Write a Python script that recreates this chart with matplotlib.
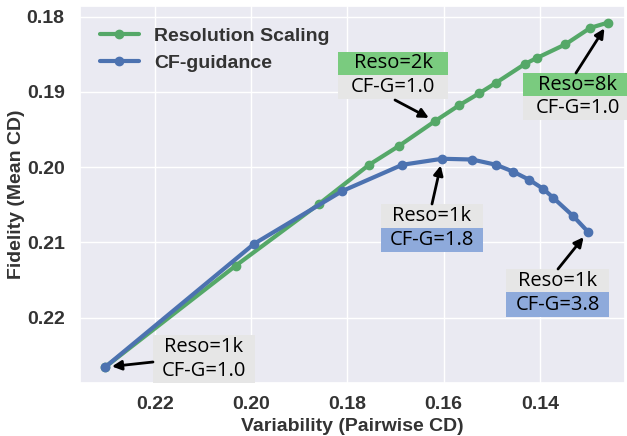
import matplotlib
matplotlib.use("Agg")
import matplotlib.pyplot as plt
import seaborn as sns
from matplotlib.patches import Rectangle

# ---- data ----
reso_x = [0.2304, 0.2032, 0.1859, 0.1755, 0.1693, 0.1618, 0.1568, 0.1526,
          0.1491, 0.1431, 0.1406, 0.1347, 0.1295, 0.1258]
reso_y = [0.2266, 0.2131, 0.2049, 0.1997, 0.1972, 0.1939, 0.1918, 0.1902,
          0.1888, 0.1863, 0.1855, 0.1837, 0.1815, 0.1808]
cfg_x = [0.2304, 0.1994, 0.1811, 0.1686, 0.1603, 0.1541, 0.1491, 0.1456,
         0.1422, 0.1393, 0.1372, 0.1331, 0.1300]
cfg_y = [0.2266, 0.2102, 0.2032, 0.1997, 0.1989, 0.1990, 0.1997, 0.2006,
         0.2017, 0.2029, 0.2041, 0.2065, 0.2086]
xticks = [0.22, 0.20, 0.18, 0.16, 0.14]
yticks = [0.18, 0.19, 0.20, 0.21, 0.22]
series_names = ["Resolution Scaling", "CF-guidance"]

sns.set_theme(style="darkgrid")
plt.rcParams['font.family'] = ['Liberation Sans', 'DejaVu Sans']

W, H = 627, 436
fig = plt.figure(figsize=(W / 100, H / 100), dpi=100)
AX_L, AX_R, AX_T, AX_B = 80, 625, 6, 383
ax = fig.add_axes([AX_L / W, 1 - AX_B / H, (AX_R - AX_L) / W, (AX_B - AX_T) / H])

green = "#55A868"
blue = "#4C72B0"
ax.plot(reso_x, reso_y, '-o', color=green, lw=3, ms=6, label=series_names[0], zorder=3)
ax.plot(cfg_x, cfg_y, '-o', color=blue, lw=3, ms=6, label=series_names[1], zorder=4)

ax.set_xlim(0.2356, 0.1223)
ax.set_ylim(0.2287, 0.1786)
ax.set_xticks(xticks)
ax.set_yticks(yticks)
ax.set_xticklabels([f"{v:.2f}" for v in xticks])
ax.set_yticklabels([f"{v:.2f}" for v in yticks])
FS = 14
for lab in ax.get_xticklabels() + ax.get_yticklabels():
    lab.set_fontweight('bold')
    lab.set_fontsize(FS)
    lab.set_color('#333333')
ax.tick_params(axis='x', pad=3)
ax.tick_params(axis='y', pad=5)
ax.set_xlabel("Variability (Pairwise CD)", fontsize=FS, fontweight='bold', color='#333333', labelpad=4)
ax.set_ylabel("Fidelity (Mean CD)", fontsize=FS, fontweight='bold', color='#333333', labelpad=1)

leg = ax.legend(loc='upper left', frameon=False, prop={'weight': 'bold', 'size': FS},
                handlelength=2.0, handletextpad=0.8, borderaxespad=0.2, labelspacing=0.5,
                bbox_to_anchor=(0.015, 0.975))
for t in leg.get_texts():
    t.set_color('#333333')

def pa(px, py):
    return ((px - AX_L) / (AX_R - AX_L), (AX_B - py) / (AX_B - AX_T))

c_green = "#7ACB7F"
c_gray = "#E6E6E6"
c_blue = "#8EAADB"
afont = dict(family=['Open Sans', 'DejaVu Sans'], fontsize=14.5, color='black')

def box(x0, x1, y0, y1, color, text):
    (ax0, ay1) = pa(x0, y0)
    (ax1, ay0) = pa(x1, y1)
    ax.add_patch(Rectangle((ax0, ay0), ax1 - ax0, ay1 - ay0, transform=ax.transAxes,
                           facecolor=color, edgecolor='none', zorder=5, clip_on=False))
    cx, cy = pa((x0 + x1) / 2, (y0 + y1) / 2)
    ax.text(cx, cy, text, transform=ax.transAxes, ha='center', va='center', zorder=6, **afont)

def arrow(tail, head_xy):
    ax.annotate("", xy=head_xy, xycoords='data', xytext=pa(*tail), textcoords='axes fraction',
                arrowprops=dict(arrowstyle='-|>', color='black', lw=2, mutation_scale=14,
                                shrinkA=0, shrinkB=5), zorder=7)

# Reso=2k
box(338, 448, 52, 75, c_green, "Reso=2k")
box(338, 448, 75, 99, c_gray, "CF-G=1.0")
arrow((395, 100), (reso_x[5], reso_y[5]))
# Reso=8k
box(523, 632, 73, 96, c_green, "Reso=8k")
box(523, 632, 96, 120, c_gray, "CF-G=1.0")
arrow((576, 73), (reso_x[-1], reso_y[-1]))
# CF-G=1.8
box(381, 483, 204, 228, c_gray, "Reso=1k")
box(381, 483, 228, 252, c_blue, "CF-G=1.8")
arrow((432, 204), (cfg_x[4], cfg_y[4]))
# CF-G=3.8
box(506, 609, 269, 292, c_gray, "Reso=1k")
box(506, 609, 292, 317, c_blue, "CF-G=3.8")
arrow((558, 269), (cfg_x[-1], cfg_y[-1]))
# start point
(bx0, by1) = pa(153, 335)
(bx1, by0) = pa(255, 383)
ax.add_patch(Rectangle((bx0, by0), bx1 - bx0, by1 - by0, transform=ax.transAxes,
                       facecolor=c_gray, edgecolor='none', zorder=5))
ax.text(*pa(204, 347), "Reso=1k", transform=ax.transAxes, ha='center', va='center', zorder=6, **afont)
ax.text(*pa(204, 371), "CF-G=1.0", transform=ax.transAxes, ha='center', va='center', zorder=6, **afont)
arrow((153, 362), (reso_x[0], reso_y[0]))

fig.savefig("out.png", dpi=100)
